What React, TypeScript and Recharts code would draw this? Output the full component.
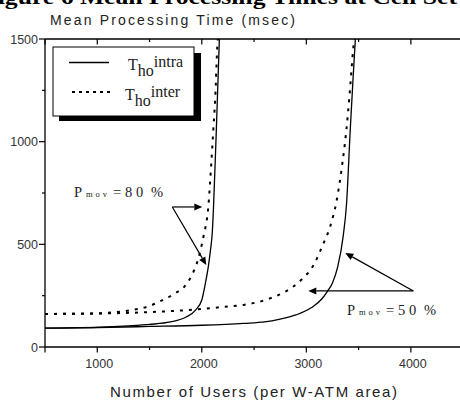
import React from 'react'
import { LineChart, Line, XAxis, YAxis, ReferenceLine } from 'recharts'

// x = number of users, y = mean processing time (msec)
const intra80Users = [500, 1000, 1300, 1500, 1700, 1850, 1940, 2000, 2035, 2062, 2085, 2100, 2112, 2139, 2168]
const intra80Time = [92, 96, 103, 110, 122, 146, 180, 229, 312, 390, 480, 555, 680, 1057, 1500]

const inter80Users = [500, 1000, 1300, 1500, 1650, 1750, 1830, 1900, 1960, 2015, 2062, 2091, 2110, 2129, 2148, 2153]
const inter80Time = [161, 164, 178, 200, 235, 263, 292, 345, 420, 536, 682, 896, 1057, 1218, 1461, 1500]

const intra50Users = [500, 1000, 1500, 2000, 2400, 2600, 2750, 2900, 3050, 3150, 3200, 3250, 3300, 3350, 3385, 3420, 3445, 3469]
const intra50Time = [92, 95, 100, 106, 115, 122, 136, 156, 192, 235, 270, 312, 390, 530, 700, 1057, 1290, 1500]

const inter50Users = [500, 1000, 1500, 2000, 2200, 2400, 2600, 2800, 2950, 3070, 3160, 3230, 3285, 3345, 3383, 3412, 3450, 3458]
const inter50Time = [161, 163, 170, 185, 195, 205, 228, 270, 326, 400, 500, 590, 700, 896, 1057, 1218, 1461, 1500]

const xTicks = [500, 1000, 1500, 2000, 2500, 3000, 3500, 4000]
const xLabelled = [1000, 2000, 3000, 4000]
const yTicks = [0, 250, 500, 750, 1000, 1250, 1500]
const yLabelled = [0, 500, 1000, 1500]

// annotation arrows, in data units: [fromX, fromY, toX, toY]
const arrows80 = [
  [1718, 682, 2005, 682],
  [1718, 682, 2043, 399],
]
const arrows50 = [
  [4024, 273, 3019, 273],
  [4024, 273, 3373, 458],
]

const zip = (xs: number[], ys: number[]) => xs.map((x, i) => ({ x, y: ys[i] }))

const numFont = '"Liberation Sans", Arial, sans-serif'
const serif = '"Liberation Serif", "Times New Roman", serif'

function YTick(props: any) {
  const { x, y, payload } = props
  const major = yLabelled.includes(payload.value)
  return (
    <g>
      <line x1={x} x2={x - (major ? 6 : 3)} y1={y} y2={y} stroke="#000" strokeWidth={1.2} />
      {major && (
        <text x={x - 7} y={y + 4.5} textAnchor="end" fontFamily={numFont} fontSize={12.5} fill="#333">
          {payload.value}
        </text>
      )}
    </g>
  )
}

function XTick(props: any) {
  const { x, y, payload } = props
  const major = payload.value % 1000 === 0 || payload.value === 500
  return (
    <g>
      <line x1={x} x2={x} y1={y} y2={y + (major ? 5.5 : 3)} stroke="#000" strokeWidth={1.2} />
      {xLabelled.includes(payload.value) && (
        <text x={x + 2} y={y + 21} textAnchor="middle" fontFamily={numFont} fontSize={12.5} fill="#333">
          {payload.value}
        </text>
      )}
    </g>
  )
}

function TopTick(props: any) {
  const { x, y, payload } = props
  const major = payload.value % 1000 === 0 || payload.value === 500
  return <line x1={x} x2={x} y1={y} y2={y + (major ? 5.5 : 3)} stroke="#000" strokeWidth={1.2} />
}

function Arrow(props: any) {
  const { x1, y1, x2, y2 } = props
  const dx = x2 - x1
  const dy = y2 - y1
  const len = Math.sqrt(dx * dx + dy * dy) || 1
  const ux = dx / len
  const uy = dy / len
  const hl = 8
  const hw = 3.5
  const bx = x2 - ux * hl
  const by = y2 - uy * hl
  const pts = `${x2},${y2} ${bx - uy * hw},${by + ux * hw} ${bx + uy * hw},${by - ux * hw}`
  return (
    <g>
      <line x1={x1} y1={y1} x2={bx} y2={by} stroke="#000" strokeWidth={1.2} />
      <polygon points={pts} fill="#000" />
    </g>
  )
}

function PmovLabel({ x, y, pct }: { x: number; y: number; pct: string }) {
  return (
    <g fontFamily={serif} fill="#222">
      <text x={x} y={y} fontSize={14.5}>P</text>
      <text x={x + 12} y={y} fontSize={8.5} letterSpacing={3}>mov</text>
      <text x={x + 39} y={y} fontSize={14.5}>=</text>
      <text x={x + 51} y={y} fontSize={14.5}>{pct[0]}</text>
      <text x={x + 62} y={y} fontSize={14.5}>{pct[1]}</text>
      <text x={x + 77} y={y} fontSize={14.5}>%</text>
    </g>
  )
}

export default function App() {
  const sans = '"Liberation Sans", Arial, sans-serif'
  return (
    <div style={{ position: 'absolute', left: 0, top: 0, width: 460, height: 401, overflow: 'hidden', background: '#fff' }}>
      <LineChart width={460} height={401} margin={{ top: 0, right: 0, bottom: 0, left: 0 }}>
        <XAxis
          dataKey="x"
          type="number"
          domain={[500, 4470]}
          ticks={xTicks}
          height={54}
          tickSize={0}
          tickMargin={0}
          tickLine={false}
          tick={XTick}
          axisLine={{ stroke: '#000', strokeWidth: 1.3 }}
          allowDataOverflow
          interval={0}
        />
        <XAxis
          xAxisId="top"
          orientation="top"
          dataKey="x"
          type="number"
          domain={[500, 4470]}
          ticks={xTicks}
          height={39}
          tickSize={0}
          tickMargin={0}
          tickLine={false}
          tick={TopTick}
          axisLine={{ stroke: '#000', strokeWidth: 1.3 }}
          allowDataOverflow
          interval={0}
        />
        <YAxis
          type="number"
          domain={[0, 1500]}
          ticks={yTicks}
          width={45}
          tickSize={0}
          tickMargin={0}
          tickLine={false}
          tick={YTick}
          axisLine={{ stroke: '#000', strokeWidth: 1.3 }}
          allowDataOverflow
          interval={0}
        />
        <Line data={zip(intra80Users, intra80Time)} dataKey="y" type="monotone" stroke="#000" strokeWidth={1.3} dot={false} activeDot={false} isAnimationActive={false} />
        <Line data={zip(intra50Users, intra50Time)} dataKey="y" type="monotone" stroke="#000" strokeWidth={1.3} dot={false} activeDot={false} isAnimationActive={false} />
        <Line data={zip(inter80Users, inter80Time)} dataKey="y" type="monotone" stroke="#000" strokeWidth={2} strokeDasharray="3 6" dot={false} activeDot={false} isAnimationActive={false} />
        <Line data={zip(inter50Users, inter50Time)} dataKey="y" type="monotone" stroke="#000" strokeWidth={2} strokeDasharray="3 6" dot={false} activeDot={false} isAnimationActive={false} />
        {[...arrows80, ...arrows50].map((a, i) => (
          <ReferenceLine
            key={i}
            segment={[{ x: a[0], y: a[1] }, { x: a[2], y: a[3] }]}
            shape={Arrow}
            ifOverflow="visible"
          />
        ))}
      </LineChart>
      <svg width={460} height={401} style={{ position: 'absolute', left: 0, top: 0, pointerEvents: 'none' }}>
        <text x={-18} y={4} fontFamily={serif} fontWeight="bold" fontSize={20} textLength={475} lengthAdjust="spacingAndGlyphs" fill="#000">
          Figure 6 Mean Processing Times at Cell Set
        </text>
        <text x={50} y={25} fontFamily={sans} fontSize={14} textLength={245} lengthAdjust="spacing" fill="#222">
          Mean Processing Time (msec)
        </text>
        <text x={110} y={397} fontFamily={sans} fontSize={15} textLength={287} lengthAdjust="spacing" fill="#222">
          Number of Users (per W-ATM area)
        </text>
        {/* legend */}
        <rect x={59} y={53} width={142} height={68} fill="#000" />
        <rect x={53} y={47} width={141} height={69} fill="#fff" stroke="#000" strokeWidth={1} />
        <line x1={69} x2={109} y1={62.5} y2={62.5} stroke="#000" strokeWidth={1.3} />
        <line x1={72} x2={110} y1={92} y2={92} stroke="#000" strokeWidth={2} strokeDasharray="3 4" />
        <text x={128} y={70} fontFamily={serif} fontSize={16} fill="#222">
          T<tspan dy={6}>ho</tspan><tspan dy={-9}>intra</tspan>
        </text>
        <text x={125} y={100} fontFamily={serif} fontSize={16} fill="#222">
          T<tspan dy={6}>ho</tspan><tspan dy={-9}>inter</tspan>
        </text>
        <PmovLabel x={74} y={197} pct="80" />
        <PmovLabel x={347} y={315} pct="50" />
      </svg>
    </div>
  )
}
